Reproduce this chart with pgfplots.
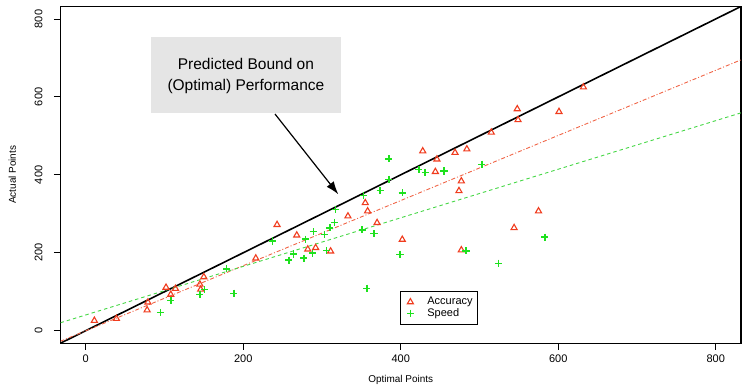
\documentclass[border=0pt]{standalone}
\usepackage{pgfplots}
\pgfplotsset{compat=1.18}
\usepackage{pgfplotstable}
\usepackage{fontspec}
\setmainfont{Liberation Sans}
\usetikzlibrary{arrows.meta}
\definecolor{accred}{RGB}{240,60,30}
\definecolor{accline}{RGB}{240,100,70}
\definecolor{spdgreen}{RGB}{30,225,30}
\definecolor{spdline}{RGB}{70,215,70}
\definecolor{boxgray}{RGB}{229,229,229}

\pgfplotstableread{
x y
11 26
39 31
79 73
78 53
102 111
108 93
114 108
145 119
146 106
150 138
216 186
243 272
268 245
282 209
292 213
311 204
333 294
355 328
358 307
370 277
402 234
428 461
446 440
444 408
469 457
484 466
477 384
474 359
477 207
515 509
548 569
549 541
544 264
575 307
601 562
632 625
}\accuracy

\pgfplotstableread{
x y
95 47
108 77
145 93
151 106
179 159
188 96
237 230
258 181
264 197
277 186
279 235
288 199
289 254
303 247
306 206
310 264
316 278
317 311
351 259
353 347
357 109
366 249
374 360
385 441
385 388
399 196
402 354
423 414
431 406
455 410
483 205
503 427
524 173
583 240
}\speed

\begin{document}
\begin{tikzpicture}
\useasboundingbox (0,0) rectangle (742bp,387bp);
\begin{axis}[
  at={(60.5bp,43.8bp)}, anchor=south west,
  scale only axis, width=680.4bp, height=336.7bp,
  xmin=-32, xmax=832, ymin=-32, ymax=832,
  xtick={0,200,400,600,800}, ytick={0,200,400,600,800},
  xtick pos=bottom, ytick pos=left,
  tick align=outside, major tick length=6.5bp,
  axis line style={line width=1.3bp},
  every tick/.style={black, line width=0.9bp},
  tick label style={font=\fontsize{11bp}{13bp}\selectfont},
  /pgf/number format/assume math mode=true,
  yticklabel style={rotate=90, anchor=south},
  yticklabel shift=8bp,
  xticklabel shift=2bp,
  xlabel={Optimal Points}, ylabel={Actual Points},
  label style={font=\fontsize{11bp}{13bp}\selectfont},
  every axis x label/.style={at={(axis description cs:0.5,-0.1093)}, anchor=center},
  every axis y label/.style={at={(axis description cs:-0.0708,0.5)}, anchor=center, rotate=90},
  legend style={at={(axis description cs:0.499,0.155)}, anchor=north west, draw=black, line width=0.75bp,
    inner xsep=3bp, inner ysep=5bp, font=\fontsize{11bp}{13bp}\selectfont, row sep=0bp,
    nodes={inner xsep=2bp, inner ysep=0.5bp, text height=8bp, text depth=2.3bp}},
  legend cell align=left,
  legend image code/.code={\path[draw=none] (0bp,0bp) -- (22bp,0bp); \draw[#1] plot[only marks] coordinates {(7bp,0bp)};},
]
\addplot[forget plot, black, line width=1.6bp] coordinates {(-32,-32) (832,832)};
\addplot[forget plot, accline, line width=0.9bp, dash pattern=on 4bp off 2bp on 1bp off 2bp] coordinates {(-32,-27) (832,695)};
\addplot[forget plot, spdline, line width=0.9bp, dash pattern=on 3.5bp off 3bp] coordinates {(-32,20.5) (832,559)};
\addplot[only marks, mark=triangle, mark size=3.5bp, color=accred, mark options={line width=1.1bp}] table {\accuracy};
\addlegendentry{Accuracy}
\addplot[only marks, mark=+, mark size=3.6bp, color=spdgreen, mark options={line width=1.5bp}] table {\speed};
\addlegendentry{Speed}
\end{axis}
\fill[boxgray] (151bp,273.7bp) rectangle (340.7bp,349.7bp);
\node[align=center, font=\fontsize{15.5bp}{21bp}\selectfont] at (245.9bp,311.2bp) {Predicted Bound on\\(Optimal) Performance};
\draw[line width=1.2bp, -{Latex[length=13bp,width=9bp]}] (275bp,273bp) -- (338.3bp,192.7bp);
\end{tikzpicture}
\end{document}
